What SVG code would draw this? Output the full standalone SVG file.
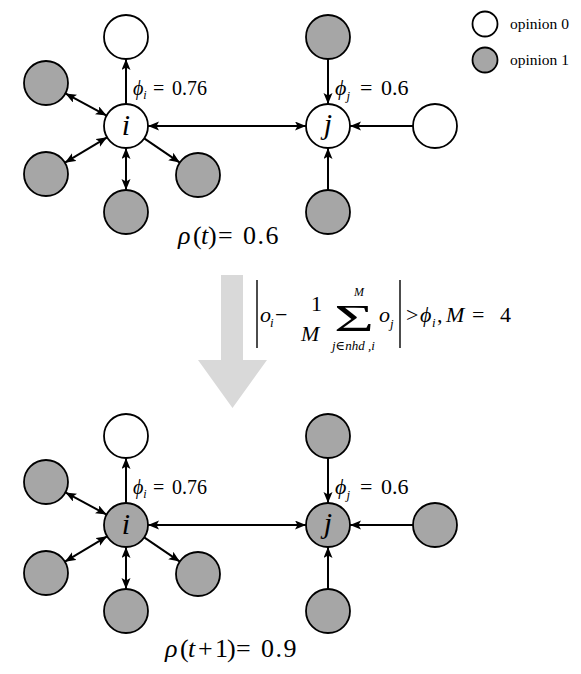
<svg xmlns="http://www.w3.org/2000/svg" width="581" height="674" viewBox="0 0 581 674">
<style>
.n{stroke:#000;stroke-width:1.8}
.w{fill:#fff}
.g{fill:#a6a6a6}
.e{stroke:#000;stroke-width:2;fill:none}
text{font-family:"Liberation Serif","Times New Roman","DejaVu Serif",serif;fill:#000}
.it{font-style:italic}
</style>
<defs>
<marker id="ah" markerUnits="userSpaceOnUse" markerWidth="12" markerHeight="10" refX="11" refY="4.5" orient="auto-start-reverse">
<path d="M0,0 L11,4.5 L0,9 L2.5,4.5 z" fill="#000"/>
</marker>
</defs>
<rect width="581" height="674" fill="#fff"/>

<path id="bigArrow" d="M221,275 H243 V360 H267 L232.5,408 L198,360 H221 Z" fill="#d9d9d9"/>

<g id="connectors">
<line class="e" x1="126" y1="104" x2="126" y2="59" marker-end="url(#ah)"/>
<line class="e" x1="106.6" y1="115.6" x2="65.4" y2="93.4" marker-start="url(#ah)" marker-end="url(#ah)"/>
<line class="e" x1="107.1" y1="137.3" x2="64.9" y2="162.7" marker-start="url(#ah)" marker-end="url(#ah)"/>
<line class="e" x1="126" y1="148" x2="126" y2="190" marker-start="url(#ah)" marker-end="url(#ah)"/>
<line class="e" x1="144.2" y1="138.4" x2="179.8" y2="162.6" marker-end="url(#ah)"/>
<line class="e" x1="148" y1="126" x2="306" y2="126" marker-start="url(#ah)" marker-end="url(#ah)"/>
<line class="e" x1="328" y1="59" x2="328" y2="104" marker-end="url(#ah)"/>
<line class="e" x1="413" y1="126" x2="350" y2="126" marker-end="url(#ah)"/>
<line class="e" x1="328" y1="190" x2="328" y2="148" marker-end="url(#ah)"/>
<line class="e" x1="126" y1="503" x2="126" y2="458" marker-end="url(#ah)"/>
<line class="e" x1="106.6" y1="514.6" x2="65.4" y2="492.4" marker-start="url(#ah)" marker-end="url(#ah)"/>
<line class="e" x1="107.1" y1="536.3" x2="64.9" y2="561.7" marker-start="url(#ah)" marker-end="url(#ah)"/>
<line class="e" x1="126" y1="547" x2="126" y2="589" marker-start="url(#ah)" marker-end="url(#ah)"/>
<line class="e" x1="144.2" y1="537.4" x2="179.8" y2="561.6" marker-end="url(#ah)"/>
<line class="e" x1="148" y1="525" x2="306" y2="525" marker-start="url(#ah)" marker-end="url(#ah)"/>
<line class="e" x1="328" y1="458" x2="328" y2="503" marker-end="url(#ah)"/>
<line class="e" x1="413" y1="525" x2="350" y2="525" marker-end="url(#ah)"/>
<line class="e" x1="328" y1="589" x2="328" y2="547" marker-end="url(#ah)"/>
</g>

<g id="top-i"><circle class="n w" cx="126" cy="126" r="22"/><text class="it" x="126" y="135" font-size="30" text-anchor="middle">i</text></g>
<g id="top-i-up"><circle class="n w" cx="126" cy="37" r="22"/></g>
<g id="top-i-ul"><circle class="n g" cx="46" cy="83" r="22"/></g>
<g id="top-i-ll"><circle class="n g" cx="46" cy="174" r="22"/></g>
<g id="top-i-down"><circle class="n g" cx="126" cy="212" r="22"/></g>
<g id="top-i-lr"><circle class="n g" cx="198" cy="175" r="22"/></g>
<g id="top-j"><circle class="n w" cx="328" cy="126" r="22"/><text class="it" x="328" y="134" font-size="30" text-anchor="middle">j</text></g>
<g id="top-j-up"><circle class="n g" cx="328" cy="37" r="22"/></g>
<g id="top-j-right"><circle class="n w" cx="435" cy="126" r="22"/></g>
<g id="top-j-down"><circle class="n g" cx="328" cy="212" r="22"/></g>

<g id="bot-i"><circle class="n g" cx="126" cy="525" r="22"/><text class="it" x="126" y="534" font-size="30" text-anchor="middle">i</text></g>
<g id="bot-i-up"><circle class="n w" cx="126" cy="436" r="22"/></g>
<g id="bot-i-ul"><circle class="n g" cx="46" cy="482" r="22"/></g>
<g id="bot-i-ll"><circle class="n g" cx="46" cy="573" r="22"/></g>
<g id="bot-i-down"><circle class="n g" cx="126" cy="611" r="22"/></g>
<g id="bot-i-lr"><circle class="n g" cx="198" cy="574" r="22"/></g>
<g id="bot-j"><circle class="n g" cx="328" cy="525" r="22"/><text class="it" x="328" y="533" font-size="30" text-anchor="middle">j</text></g>
<g id="bot-j-up"><circle class="n g" cx="328" cy="436" r="22"/></g>
<g id="bot-j-right"><circle class="n g" cx="435" cy="525" r="22"/></g>
<g id="bot-j-down"><circle class="n g" cx="328" cy="611" r="22"/></g>

<g id="legend">
<circle class="n w" cx="485" cy="24" r="12.5"/>
<text x="510" y="29" font-size="15.5">opinion 0</text>
<circle class="n g" cx="485" cy="60" r="12.5"/>
<text x="510" y="65" font-size="15.5">opinion 1</text>
</g>

<g id="labels-top">
<text x="133" y="95" font-size="20"><tspan class="it">ϕ</tspan><tspan class="it" font-size="12" dy="4">i</tspan><tspan x="153" dy="-4">=</tspan><tspan x="172">0.76</tspan></text>
<text x="335" y="95" font-size="22"><tspan class="it">ϕ</tspan><tspan class="it" font-size="13" dy="5">j</tspan><tspan x="360" dy="-5">=</tspan><tspan x="381">0.6</tspan></text>
<text x="178" y="244" font-size="26"><tspan class="it">ρ</tspan><tspan x="193">(</tspan><tspan class="it" x="201">t</tspan><tspan x="208">)</tspan><tspan x="218">=</tspan><tspan x="243" letter-spacing="1.5">0.6</tspan></text>
</g>

<g id="formula">
<line x1="257" y1="280" x2="257" y2="348" stroke="#000" stroke-width="1.4"/>
<text class="it" x="260" y="322" font-size="22">o</text>
<text class="it" x="270" y="327" font-size="13">i</text>
<text x="275" y="322" font-size="22">−</text>
<text x="311" y="311" font-size="22">1</text>
<text class="it" x="301" y="341" font-size="22">M</text>
<text x="334" y="331" font-size="38" textLength="40" lengthAdjust="spacingAndGlyphs">Σ</text>
<text class="it" x="354" y="296" font-size="12">M</text>
<text class="it" x="332" y="350" font-size="13">j∈nhd ,i</text>
<text class="it" x="379" y="322" font-size="22">o</text>
<text class="it" x="390" y="328" font-size="13">j</text>
<line x1="400" y1="280" x2="400" y2="348" stroke="#000" stroke-width="1.4"/>
<text x="406" y="322" font-size="22">&gt;</text>
<text class="it" x="420" y="322" font-size="22">ϕ</text>
<text class="it" x="432" y="327" font-size="13">i</text>
<text x="437" y="322" font-size="22">,</text>
<text class="it" x="446" y="322" font-size="22">M</text>
<text x="472" y="322" font-size="22">=</text>
<text x="500" y="322" font-size="22">4</text>
</g>

<g id="labels-bottom">
<text x="133" y="494" font-size="20"><tspan class="it">ϕ</tspan><tspan class="it" font-size="12" dy="4">i</tspan><tspan x="153" dy="-4">=</tspan><tspan x="172">0.76</tspan></text>
<text x="335" y="494" font-size="22"><tspan class="it">ϕ</tspan><tspan class="it" font-size="13" dy="5">j</tspan><tspan x="360" dy="-5">=</tspan><tspan x="381">0.6</tspan></text>
<text x="165" y="657" font-size="26"><tspan class="it">ρ</tspan><tspan x="180">(</tspan><tspan class="it" x="188">t</tspan><tspan x="198">+</tspan><tspan x="215">1</tspan><tspan x="227">)</tspan><tspan x="236">=</tspan><tspan x="261" letter-spacing="1.5">0.9</tspan></text>
</g>
</svg>
